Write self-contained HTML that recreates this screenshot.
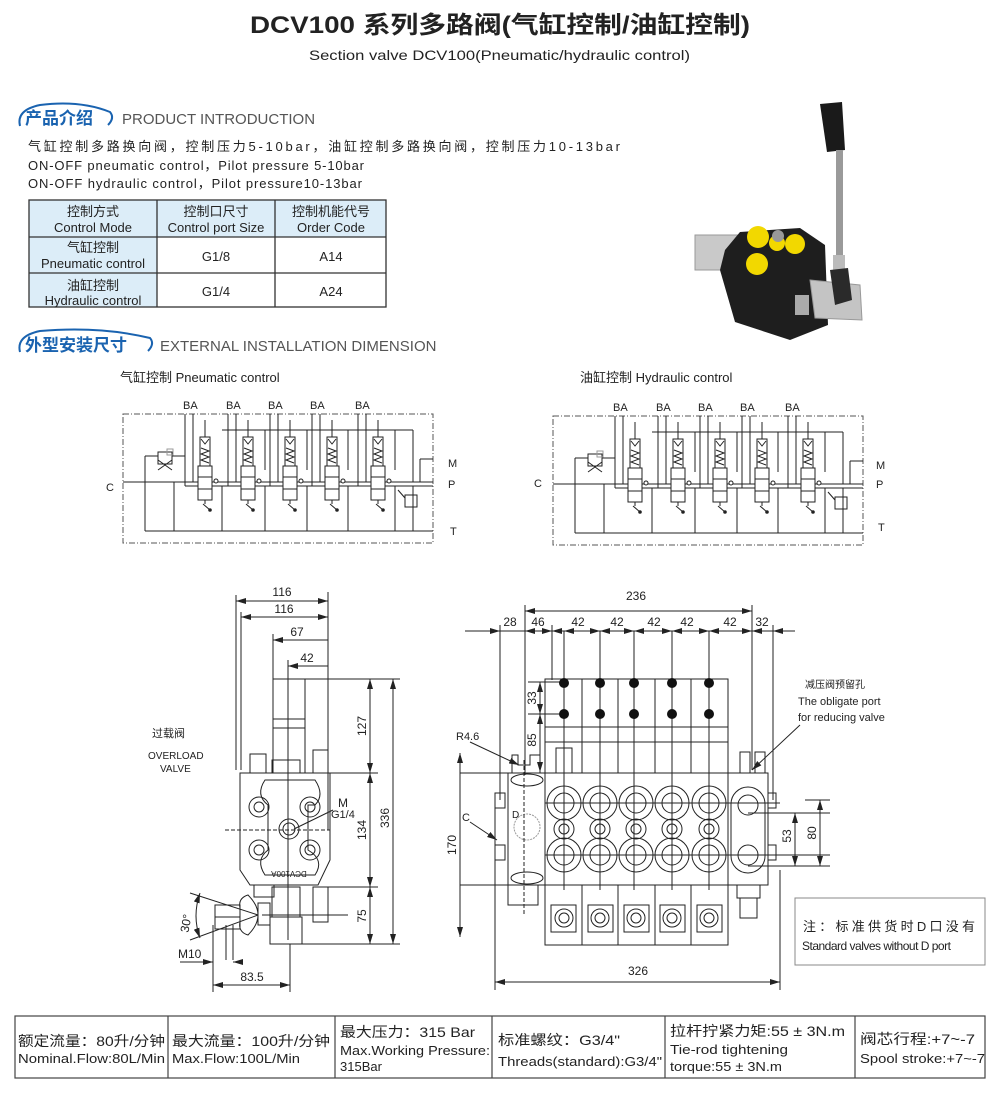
<!DOCTYPE html>
<html><head><meta charset="utf-8"><style>
html,body{margin:0;padding:0;background:#fff}
svg{display:block}
text{font-family:"Liberation Sans","Noto Sans CJK SC",sans-serif;fill:#222}
</style></head><body>
<svg width="1000" height="1103" viewBox="0 0 1000 1103" xmlns="http://www.w3.org/2000/svg">
<defs>
<marker id="ar" viewBox="0 0 10 6" refX="10" refY="3" markerWidth="10" markerHeight="6" orient="auto-start-reverse" markerUnits="userSpaceOnUse"><path d="M0,0 L10,3 L0,6 z" fill="#222"/></marker>
<g id="spool">
 <line x1="0" y1="420" x2="0" y2="437" stroke="#222" stroke-width="1"/>
 <rect x="-5" y="437" width="10" height="29" fill="#fff" stroke="#222"/>
 <path d="M-4,439 L0,444 L4,439" fill="none" stroke="#222"/>
 <path d="M-4,448 L4,451 L-4,454 L4,457 L-4,460 L4,463" fill="none" stroke="#222"/>
 <rect x="-7" y="466" width="14" height="34" fill="#fff" stroke="#222"/>
 <line x1="-7" y1="477" x2="7" y2="477" stroke="#222"/>
 <line x1="-7" y1="489" x2="7" y2="489" stroke="#222"/>
 <line x1="0" y1="500" x2="0" y2="504" stroke="#222"/>
 <path d="M-2,504 L5,510" stroke="#222" fill="none"/><circle cx="5" cy="510" r="1.3" fill="#222"/>
 <circle cx="11" cy="481" r="2" fill="#fff" stroke="#222"/>
</g>
<g id="schem" stroke="#222" stroke-width="1" fill="none">
 <rect x="123" y="414" width="310" height="129" stroke-dasharray="6,2,1,2" stroke="#555"/>
 <line x1="123" y1="482" x2="193" y2="482"/>
 <line x1="145" y1="456" x2="145" y2="531"/>
 <line x1="145" y1="456" x2="158" y2="456"/>
 <rect x="158" y="452" width="14" height="12" fill="#fff"/>
 <path d="M158,470 L172,460 M158,460 L172,470"/>
 <rect x="167" y="449" width="6" height="6" stroke="#999"/>
 <line x1="172" y1="456" x2="185" y2="456"/>
 <line x1="145" y1="531" x2="433" y2="531"/>
 <line x1="174" y1="482" x2="174" y2="531"/>
 <line x1="222" y1="486" x2="222" y2="531"/><line x1="265" y1="486" x2="265" y2="531"/>
 <line x1="307" y1="486" x2="307" y2="531"/><line x1="348" y1="486" x2="348" y2="531"/>
 <line x1="395" y1="486" x2="395" y2="531"/>
 <line x1="222" y1="430" x2="413" y2="430"/>
 <line x1="265" y1="430" x2="265" y2="470"/><line x1="307" y1="430" x2="307" y2="470"/>
 <line x1="348" y1="430" x2="348" y2="470"/><line x1="395" y1="430" x2="395" y2="470"/>
 <line x1="413" y1="430" x2="413" y2="482"/>
 <line x1="185" y1="414" x2="185" y2="486"/><line x1="193" y1="414" x2="193" y2="482"/>
 <line x1="228" y1="414" x2="228" y2="486"/><line x1="236" y1="414" x2="236" y2="482"/>
 <line x1="270" y1="414" x2="270" y2="486"/><line x1="278" y1="414" x2="278" y2="482"/>
 <line x1="312" y1="414" x2="312" y2="486"/><line x1="320" y1="414" x2="320" y2="482"/>
 <line x1="358" y1="414" x2="358" y2="486"/><line x1="366" y1="414" x2="366" y2="482"/>
 <line x1="185" y1="486" x2="433" y2="486"/>
 <line x1="193" y1="482" x2="433" y2="482"/>
 <use href="#spool" x="205"/><use href="#spool" x="248"/><use href="#spool" x="290"/><use href="#spool" x="332"/><use href="#spool" x="378"/>
 <line x1="420" y1="459" x2="420" y2="482"/><line x1="420" y1="459" x2="433" y2="459"/>
 <rect x="405" y="495" width="12" height="12" fill="#fff"/>
 <line x1="413" y1="486" x2="413" y2="531"/>
 <path d="M398,490 L405,498"/>
</g>
</defs>

<!-- Title -->
<text x="250" y="33" textLength="500" lengthAdjust="spacingAndGlyphs" font-size="24" font-weight="bold" fill="#222">DCV100 系列多路阀(气缸控制/油缸控制)</text>
<text x="309" y="60" textLength="381" lengthAdjust="spacingAndGlyphs" font-size="14">Section valve DCV100(Pneumatic/hydraulic control)</text>

<!-- Section 1 heading -->
<path d="M20,126 Q16,110 40,105 Q80,100 110,112 Q115,118 108,125" fill="none" stroke="#1a63b0" stroke-width="2"/>
<text x="25" y="124" font-size="17" font-weight="bold" style="fill:#1a63b0">产品介绍</text>
<text x="122" y="124" font-size="15" style="fill:#555">PRODUCT INTRODUCTION</text>
<text x="28" y="151" font-size="13" textLength="592" lengthAdjust="spacing">气缸控制多路换向阀，控制压力5-10bar，油缸控制多路换向阀，控制压力10-13bar</text>
<text x="28" y="170" font-size="13" textLength="336" lengthAdjust="spacing">ON-OFF pneumatic control，Pilot pressure 5-10bar</text>
<text x="28" y="188" font-size="13" textLength="334" lengthAdjust="spacing">ON-OFF hydraulic control，Pilot pressure10-13bar</text>

<!-- Table -->
<rect x="29" y="200" width="357" height="37" fill="#dcedf8"/>
<rect x="29" y="237" width="128" height="70" fill="#dcedf8"/>
<g stroke="#333" stroke-width="1.3" fill="none">
<rect x="29" y="200" width="357" height="107"/>
<line x1="157" y1="200" x2="157" y2="307"/><line x1="275" y1="200" x2="275" y2="307"/>
<line x1="29" y1="237" x2="386" y2="237"/><line x1="29" y1="273" x2="386" y2="273"/>
</g>
<g font-size="13" text-anchor="middle">
<text x="93" y="216">控制方式</text><text x="93" y="232">Control Mode</text>
<text x="216" y="216">控制口尺寸</text><text x="216" y="232">Control port Size</text>
<text x="331" y="216">控制机能代号</text><text x="331" y="232">Order Code</text>
<text x="93" y="252">气缸控制</text><text x="93" y="268">Pneumatic control</text>
<text x="216" y="261">G1/8</text><text x="331" y="261">A14</text>
<text x="93" y="290">油缸控制</text><text x="93" y="305">Hydraulic control</text>
<text x="216" y="296">G1/4</text><text x="331" y="296">A24</text>
</g>

<!-- Photo -->
<g>
<polygon points="820,104 842,102 845,150 827,152" fill="#1a1a1a"/>
<rect x="836" y="150" width="7" height="110" fill="#9a9a9a"/>
<rect x="833" y="255" width="12" height="20" fill="#bbb"/>
<rect x="695" y="235" width="48" height="35" fill="#c9c9c9" stroke="#999"/>
<polygon points="740,232 800,228 825,245 828,325 790,340 735,322 720,270 725,250" fill="#1e1e1e"/>
<polygon points="810,280 860,285 862,320 815,318" fill="#c4c4c4" stroke="#999"/>
<polygon points="830,270 848,268 852,300 835,305" fill="#2a2a2a"/>
<circle cx="758" cy="237" r="11" fill="#f2d800"/><circle cx="777" cy="243" r="8" fill="#f2d800"/>
<circle cx="795" cy="244" r="10" fill="#f2d800"/><circle cx="757" cy="264" r="11" fill="#f2d800"/>
<circle cx="778" cy="236" r="6" fill="#999"/>
<rect x="795" y="295" width="14" height="20" fill="#aaa"/>
</g>

<!-- Section 2 heading -->
<path d="M20,352 Q16,336 40,331 Q100,326 150,338 Q155,344 148,351" fill="none" stroke="#1a63b0" stroke-width="2"/>
<text x="25" y="351" font-size="17" font-weight="bold" style="fill:#1a63b0">外型安装尺寸</text>
<text x="160" y="351" font-size="15" style="fill:#555">EXTERNAL INSTALLATION DIMENSION</text>
<text x="120" y="382" font-size="13">气缸控制 Pneumatic control</text>
<text x="580" y="382" font-size="13">油缸控制  Hydraulic control</text>

<!-- Schematics -->
<use href="#schem"/>
<g font-size="11">
<text x="183" y="409">BA</text><text x="226" y="409">BA</text><text x="268" y="409">BA</text><text x="310" y="409">BA</text><text x="355" y="409">BA</text>
<text x="106" y="491">C</text><text x="448" y="467">M</text><text x="448" y="488">P</text><text x="450" y="535">T</text>
</g>
<use href="#schem" x="430" y="2"/>
<g font-size="11">
<text x="613" y="411">BA</text><text x="656" y="411">BA</text><text x="698" y="411">BA</text><text x="740" y="411">BA</text><text x="785" y="411">BA</text>
<text x="534" y="487">C</text><text x="876" y="469">M</text><text x="876" y="488">P</text><text x="878" y="531">T</text>
</g>

<!-- Side view -->
<g stroke="#222" stroke-width="1" fill="none">
<line x1="236" y1="595" x2="236" y2="770"/><line x1="241" y1="612" x2="241" y2="770"/>
<line x1="328" y1="592" x2="328" y2="830"/>
<line x1="273" y1="634" x2="273" y2="680"/><line x1="288" y1="660" x2="288" y2="940"/>
<line x1="236" y1="601" x2="328" y2="601" marker-start="url(#ar)" marker-end="url(#ar)"/>
<line x1="241" y1="617" x2="328" y2="617" marker-start="url(#ar)" marker-end="url(#ar)"/>
<line x1="273" y1="640" x2="328" y2="640" marker-start="url(#ar)"/>
<line x1="288" y1="666" x2="328" y2="666" marker-start="url(#ar)"/>
<rect x="273" y="679" width="32" height="94"/>
<line x1="273" y1="719" x2="305" y2="719"/><line x1="273" y1="728" x2="305" y2="728"/>
<rect x="313" y="750" width="15" height="23"/>
<rect x="250" y="754" width="16" height="19"/>
<rect x="272" y="760" width="28" height="13"/>
<path d="M240,773 L330,773 L330,860 L318,885 L250,885 L240,870 Z"/>
<path d="M265,780 L315,780 Q325,795 315,805 L308,805 L308,850 Q325,860 315,875 L265,875 Q255,860 268,850 L268,805 Q255,795 265,780 Z"/>
<circle cx="259" cy="807" r="10"/><circle cx="259" cy="807" r="5"/>
<circle cx="310" cy="807" r="10"/><circle cx="310" cy="807" r="5"/>
<circle cx="259" cy="850" r="10"/><circle cx="259" cy="850" r="5"/>
<circle cx="310" cy="850" r="10"/><circle cx="310" cy="850" r="5"/>
<circle cx="289" cy="829" r="10"/><circle cx="289" cy="829" r="6"/>
<line x1="225" y1="830" x2="330" y2="830" stroke-dasharray="4,2"/>
<rect x="272" y="887" width="28" height="30"/>
<rect x="270" y="917" width="32" height="27"/>
<rect x="313" y="887" width="15" height="35"/>
<rect x="254" y="885" width="20" height="12"/>
<path d="M240,908 Q238,898 248,895 Q258,905 258,915 Q258,925 248,935 Q238,932 240,922 Z"/>
<rect x="258" y="903" width="12" height="22"/>
<rect x="215" y="905" width="25" height="24"/>
<line x1="215" y1="917" x2="240" y2="917"/>
<line x1="190" y1="893" x2="258" y2="915"/><line x1="190" y1="940" x2="258" y2="915"/>
<path d="M200,893 Q192,916 200,938" marker-start="url(#ar)" marker-end="url(#ar)"/>
<line x1="213" y1="925" x2="213" y2="992"/><line x1="290" y1="944" x2="290" y2="992"/>
<line x1="226" y1="925" x2="226" y2="960"/><line x1="233" y1="925" x2="233" y2="960"/>
<line x1="180" y1="962" x2="213" y2="962" marker-end="url(#ar)"/>
<line x1="233" y1="962" x2="240" y2="962" marker-start="url(#ar)"/>
<line x1="213" y1="985" x2="290" y2="985" marker-start="url(#ar)" marker-end="url(#ar)"/>
<line x1="305" y1="679" x2="400" y2="679"/><line x1="330" y1="773" x2="378" y2="773"/>
<line x1="318" y1="887" x2="378" y2="887"/><line x1="302" y1="944" x2="400" y2="944"/>
<line x1="370" y1="679" x2="370" y2="773" marker-start="url(#ar)" marker-end="url(#ar)"/>
<line x1="370" y1="773" x2="370" y2="887" marker-start="url(#ar)" marker-end="url(#ar)"/>
<line x1="370" y1="887" x2="370" y2="944" marker-start="url(#ar)" marker-end="url(#ar)"/>
<line x1="393" y1="679" x2="393" y2="944" marker-start="url(#ar)" marker-end="url(#ar)"/>
<line x1="294" y1="829" x2="333" y2="810"/>
<line x1="262" y1="915" x2="348" y2="915"/>
</g>
<g font-size="12">
<text x="282" y="596" text-anchor="middle">116</text>
<text x="284" y="613" text-anchor="middle">116</text>
<text x="297" y="636" text-anchor="middle">67</text>
<text x="307" y="662" text-anchor="middle">42</text>
<text x="152" y="737" font-size="11">过载阀</text>
<text x="148" y="759" font-size="10">OVERLOAD</text>
<text x="160" y="772" font-size="10">VALVE</text>
<text x="338" y="807">M</text><text x="331" y="818" font-size="11">G1/4</text>
<text x="289" y="877" font-size="8" text-anchor="middle" transform="rotate(180 289 874)">DCV100A</text>
<text transform="translate(366 726) rotate(-90)" text-anchor="middle">127</text>
<text transform="translate(366 830) rotate(-90)" text-anchor="middle">134</text>
<text transform="translate(366 916) rotate(-90)" text-anchor="middle">75</text>
<text transform="translate(389 818) rotate(-90)" text-anchor="middle">336</text>
<text transform="translate(190 924) rotate(-80)" text-anchor="middle">30°</text>
<text x="178" y="958">M10</text>
<text x="252" y="981" text-anchor="middle">83.5</text>
</g>

<!-- Front view -->
<g stroke="#222" stroke-width="1" fill="none">
<line x1="525" y1="605" x2="525" y2="775"/><line x1="752" y1="605" x2="752" y2="770"/>
<line x1="500" y1="625" x2="500" y2="800"/><line x1="773" y1="625" x2="773" y2="800"/>
<line x1="552" y1="625" x2="552" y2="680"/>
<line x1="525" y1="611" x2="752" y2="611" marker-start="url(#ar)" marker-end="url(#ar)"/>
<line x1="465" y1="631" x2="500" y2="631" marker-end="url(#ar)"/>
<line x1="500" y1="631" x2="525" y2="631"/>
<line x1="525" y1="631" x2="552" y2="631" marker-start="url(#ar)" marker-end="url(#ar)"/>
<line x1="552" y1="631" x2="564" y2="631" marker-start="url(#ar)"/>
<line x1="564" y1="631" x2="600" y2="631" marker-start="url(#ar)" marker-end="url(#ar)"/>
<line x1="600" y1="631" x2="634" y2="631" marker-start="url(#ar)" marker-end="url(#ar)"/>
<line x1="634" y1="631" x2="672" y2="631" marker-start="url(#ar)" marker-end="url(#ar)"/>
<line x1="672" y1="631" x2="709" y2="631" marker-start="url(#ar)" marker-end="url(#ar)"/>
<line x1="709" y1="631" x2="752" y2="631" marker-start="url(#ar)" marker-end="url(#ar)"/>
<line x1="752" y1="631" x2="773" y2="631" marker-start="url(#ar)"/>
<line x1="773" y1="631" x2="795" y2="631" marker-start="url(#ar)"/>
<rect x="545" y="679" width="183" height="94"/>
<line x1="582" y1="679" x2="582" y2="773"/><line x1="618" y1="679" x2="618" y2="773"/>
<line x1="655" y1="679" x2="655" y2="773"/><line x1="691" y1="679" x2="691" y2="773"/>
<line x1="545" y1="727" x2="728" y2="727"/><line x1="545" y1="742" x2="728" y2="742"/>
<line x1="564" y1="631" x2="564" y2="890"/><line x1="600" y1="631" x2="600" y2="890"/>
<line x1="634" y1="631" x2="634" y2="890"/><line x1="672" y1="631" x2="672" y2="890"/>
<line x1="709" y1="631" x2="709" y2="890"/>
<line x1="528" y1="682" x2="560" y2="682"/><line x1="528" y1="714" x2="560" y2="714"/>
<line x1="540" y1="682" x2="540" y2="714" marker-start="url(#ar)" marker-end="url(#ar)"/>
<line x1="540" y1="714" x2="540" y2="772" marker-start="url(#ar)" marker-end="url(#ar)"/>
<path d="M512,773 L512,755 L518,755 L518,765 L530,765 L530,755 L540,755 L540,773"/>
<path d="M508,773 L545,773 L545,885 L508,885 Z"/>
<ellipse cx="527" cy="780" rx="16" ry="6"/><ellipse cx="527" cy="878" rx="16" ry="6"/>
<circle cx="527" cy="827" r="13" stroke="#999" stroke-dasharray="2,1"/>
<line x1="524" y1="760" x2="524" y2="915" stroke-dasharray="4,2"/>
<rect x="495" y="793" width="10" height="15"/><rect x="495" y="845" width="10" height="15"/>
<path d="M508,885 L508,905 L538,905 L538,885"/>
<rect x="545" y="773" width="183" height="112"/>
<rect x="728" y="773" width="40" height="112"/>
<rect x="768" y="793" width="8" height="15"/><rect x="768" y="845" width="8" height="15"/>
<path d="M740,773 L740,752 L750,752 L750,773 M755,773 L755,752 L765,752 L765,773"/>
<rect x="556" y="748" width="16" height="25"/>
<circle cx="564" cy="803" r="17"/><circle cx="564" cy="803" r="10"/><circle cx="564" cy="829" r="10"/><circle cx="564" cy="829" r="5"/><circle cx="564" cy="855" r="17"/><circle cx="564" cy="855" r="10"/>
<circle cx="600" cy="803" r="17"/><circle cx="600" cy="803" r="10"/><circle cx="600" cy="829" r="10"/><circle cx="600" cy="829" r="5"/><circle cx="600" cy="855" r="17"/><circle cx="600" cy="855" r="10"/>
<circle cx="636" cy="803" r="17"/><circle cx="636" cy="803" r="10"/><circle cx="636" cy="829" r="10"/><circle cx="636" cy="829" r="5"/><circle cx="636" cy="855" r="17"/><circle cx="636" cy="855" r="10"/>
<circle cx="672" cy="803" r="17"/><circle cx="672" cy="803" r="10"/><circle cx="672" cy="829" r="10"/><circle cx="672" cy="829" r="5"/><circle cx="672" cy="855" r="17"/><circle cx="672" cy="855" r="10"/>
<circle cx="709" cy="803" r="17"/><circle cx="709" cy="803" r="10"/><circle cx="709" cy="829" r="10"/><circle cx="709" cy="829" r="5"/><circle cx="709" cy="855" r="17"/><circle cx="709" cy="855" r="10"/>
<rect x="731" y="787" width="34" height="86" rx="17"/>
<circle cx="748" cy="805" r="10"/><circle cx="748" cy="855" r="10"/>
<line x1="545" y1="803" x2="780" y2="803"/><line x1="545" y1="855" x2="830" y2="855"/>
<line x1="748" y1="813" x2="830" y2="813"/><line x1="748" y1="866" x2="830" y2="866"/>
<line x1="805" y1="800" x2="830" y2="800"/>
<line x1="795" y1="813" x2="795" y2="866" marker-start="url(#ar)" marker-end="url(#ar)"/>
<line x1="820" y1="800" x2="820" y2="866" marker-start="url(#ar)" marker-end="url(#ar)"/>
<rect x="545" y="885" width="183" height="60"/>
<line x1="582" y1="885" x2="582" y2="945"/><line x1="618" y1="885" x2="618" y2="945"/>
<line x1="655" y1="885" x2="655" y2="945"/><line x1="691" y1="885" x2="691" y2="945"/>
<rect x="551" y="905" width="25" height="27"/><circle cx="564" cy="918" r="9"/><circle cx="564" cy="918" r="5"/>
<rect x="588" y="905" width="25" height="27"/><circle cx="600" cy="918" r="9"/><circle cx="600" cy="918" r="5"/>
<rect x="624" y="905" width="25" height="27"/><circle cx="636" cy="918" r="9"/><circle cx="636" cy="918" r="5"/>
<rect x="660" y="905" width="25" height="27"/><circle cx="672" cy="918" r="9"/><circle cx="672" cy="918" r="5"/>
<rect x="697" y="905" width="25" height="27"/><circle cx="709" cy="918" r="9"/><circle cx="709" cy="918" r="5"/>
<path d="M737,885 L737,898 L760,898 L760,885 M740,898 L740,918 L757,918 L757,898"/>
<line x1="460" y1="773" x2="508" y2="773"/><line x1="460" y1="885" x2="508" y2="885"/>
<line x1="460" y1="753" x2="460" y2="937" marker-start="url(#ar)" marker-end="url(#ar)"/>
<line x1="495" y1="808" x2="495" y2="990"/><line x1="780" y1="870" x2="780" y2="990"/>
<line x1="495" y1="982" x2="780" y2="982" marker-start="url(#ar)" marker-end="url(#ar)"/>
<line x1="470" y1="742" x2="519" y2="765" marker-end="url(#ar)"/>
<line x1="470" y1="822" x2="497" y2="840" marker-end="url(#ar)"/>
<line x1="800" y1="725" x2="752" y2="770" marker-end="url(#ar)"/>
<rect x="795" y="898" width="190" height="67" stroke="#888"/>
</g>
<g fill="#111">
<circle cx="564" cy="683" r="5"/><circle cx="600" cy="683" r="5"/><circle cx="634" cy="683" r="5"/><circle cx="672" cy="683" r="5"/><circle cx="709" cy="683" r="5"/>
<circle cx="564" cy="714" r="5"/><circle cx="600" cy="714" r="5"/><circle cx="634" cy="714" r="5"/><circle cx="672" cy="714" r="5"/><circle cx="709" cy="714" r="5"/>
</g>
<g font-size="12">
<text x="636" y="600" text-anchor="middle">236</text>
<text x="510" y="626" text-anchor="middle">28</text><text x="538" y="626" text-anchor="middle">46</text>
<text x="578" y="626" text-anchor="middle">42</text><text x="617" y="626" text-anchor="middle">42</text>
<text x="654" y="626" text-anchor="middle">42</text><text x="687" y="626" text-anchor="middle">42</text>
<text x="730" y="626" text-anchor="middle">42</text><text x="762" y="626" text-anchor="middle">32</text>
<text transform="translate(536 698) rotate(-90)" text-anchor="middle">33</text>
<text transform="translate(536 740) rotate(-90)" text-anchor="middle">85</text>
<text transform="translate(456 845) rotate(-90)" text-anchor="middle">170</text>
<text transform="translate(791 836) rotate(-90)" text-anchor="middle">53</text>
<text transform="translate(816 833) rotate(-90)" text-anchor="middle">80</text>
<text x="456" y="740" font-size="11">R4.6</text>
<text x="462" y="821" font-size="11">C</text>
<text x="512" y="818" font-size="10">D</text>
<text x="638" y="975" text-anchor="middle">326</text>
<text x="805" y="688" font-size="10">减压阀预留孔</text>
<text x="798" y="705" font-size="11">The obligate port</text>
<text x="798" y="721" font-size="11">for reducing valve</text>
<text x="803" y="931" font-size="13" textLength="172" lengthAdjust="spacing">注：标准供货时D口没有</text>
<text x="802" y="950" font-size="12" letter-spacing="-0.5">Standard valves without D port</text>
</g>

<!-- Bottom table -->
<g stroke="#444" stroke-width="1.2" fill="none">
<rect x="15" y="1016" width="970" height="62"/>
<line x1="168" y1="1016" x2="168" y2="1078"/><line x1="335" y1="1016" x2="335" y2="1078"/>
<line x1="492" y1="1016" x2="492" y2="1078"/><line x1="665" y1="1016" x2="665" y2="1078"/>
<line x1="855" y1="1016" x2="855" y2="1078"/>
</g>
<g font-size="14">
<text x="18" y="1046" textLength="147" lengthAdjust="spacingAndGlyphs">额定流量：80升/分钟</text><text x="18" y="1063" font-size="13" textLength="147" lengthAdjust="spacingAndGlyphs">Nominal.Flow:80L/Min</text>
<text x="172" y="1046" textLength="158" lengthAdjust="spacingAndGlyphs">最大流量：100升/分钟</text><text x="172" y="1063" font-size="13" textLength="128" lengthAdjust="spacingAndGlyphs">Max.Flow:100L/Min</text>
<text x="340" y="1037" textLength="135" lengthAdjust="spacingAndGlyphs">最大压力：315 Bar</text><text x="340" y="1055" font-size="13" textLength="150" lengthAdjust="spacingAndGlyphs">Max.Working Pressure:</text><text x="340" y="1071" font-size="13">315Bar</text>
<text x="498" y="1045" textLength="122" lengthAdjust="spacingAndGlyphs">标准螺纹：G3/4"</text><text x="498" y="1066" font-size="13" textLength="164" lengthAdjust="spacingAndGlyphs">Threads(standard):G3/4"</text>
<text x="670" y="1036" textLength="175" lengthAdjust="spacingAndGlyphs">拉杆拧紧力矩:55 ± 3N.m</text><text x="670" y="1054" font-size="13" textLength="118" lengthAdjust="spacingAndGlyphs">Tie-rod tightening</text><text x="670" y="1071" font-size="13" textLength="112" lengthAdjust="spacingAndGlyphs">torque:55 ± 3N.m</text>
<text x="860" y="1044" textLength="115" lengthAdjust="spacingAndGlyphs">阀芯行程:+7~-7</text><text x="860" y="1063" font-size="13" textLength="125" lengthAdjust="spacingAndGlyphs">Spool stroke:+7~-7</text>
</g>
</svg>
</body></html>
